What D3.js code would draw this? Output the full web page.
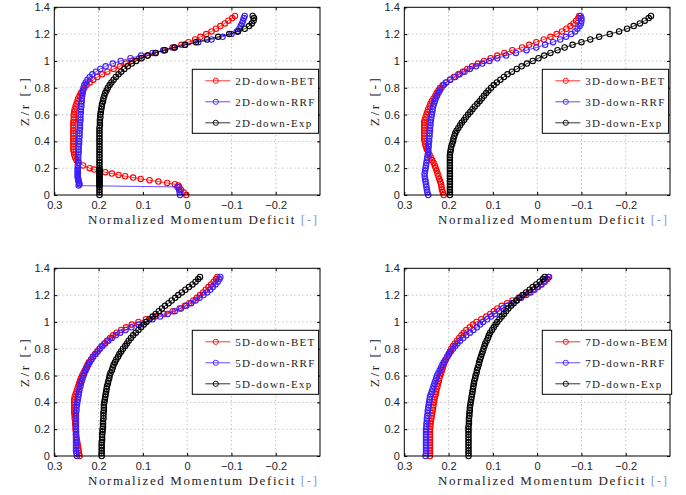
<!DOCTYPE html>
<html>
<head>
<meta charset="utf-8">
<script src="https://cdn.jsdelivr.net/npm/d3@7"></script>
<style>
  body { margin: 0; background: #fff; }
  svg { display: block; }
  .tick text { font-family: "Liberation Sans", Arial, sans-serif; font-size: 11px; fill: #222; }
  .serif { font-family: "Liberation Serif", "Times New Roman", serif; fill: #222; }
</style>
</head>
<body>
<svg id="chart" width="686" height="495"></svg>
<script>

// heights Z/r where the profiles were sampled (2D panel has extra samples near the ground)
const zNear = [
  0, 0.02, 0.04, 0.06, 0.07, 0.08, 0.09, 0.10, 0.11, 0.12,
  0.13, 0.14, 0.15, 0.16, 0.17, 0.18, 0.19, 0.20, 0.22, 0.24,
  0.26, 0.28, 0.30, 0.32, 0.34, 0.36, 0.38, 0.40, 0.42, 0.44,
  0.46, 0.48, 0.50, 0.52, 0.54, 0.56, 0.58, 0.60, 0.62, 0.64,
  0.66, 0.68, 0.70, 0.72, 0.74, 0.76, 0.78, 0.80, 0.82, 0.84,
  0.86, 0.88, 0.90, 0.92, 0.94, 0.96, 0.98, 1.00, 1.02, 1.04,
  1.06, 1.08, 1.10, 1.12, 1.14, 1.16, 1.18, 1.20, 1.22, 1.24,
  1.26, 1.28, 1.30, 1.32, 1.335
];
const zGrid = [
  0, 0.02, 0.04, 0.06, 0.08, 0.10, 0.12, 0.14, 0.16, 0.18,
  0.20, 0.22, 0.24, 0.26, 0.28, 0.30, 0.32, 0.34, 0.36, 0.38,
  0.40, 0.42, 0.44, 0.46, 0.48, 0.50, 0.52, 0.54, 0.56, 0.58,
  0.60, 0.62, 0.64, 0.66, 0.68, 0.70, 0.72, 0.74, 0.76, 0.78,
  0.80, 0.82, 0.84, 0.86, 0.88, 0.90, 0.92, 0.94, 0.96, 0.98,
  1.00, 1.02, 1.04, 1.06, 1.08, 1.10, 1.12, 1.14, 1.16, 1.18,
  1.20, 1.22, 1.24, 1.26, 1.28, 1.30, 1.32, 1.335
];

// 2D downstream (on zNear)
const bet2D = [
  0.002, 0.008, 0.014, 0.018, 0.020, 0.028, 0.045, 0.065, 0.085, 0.105,
  0.122, 0.140, 0.155, 0.170, 0.185, 0.198, 0.210, 0.220, 0.235, 0.245,
  0.250, 0.253, 0.255, 0.256, 0.257, 0.257, 0.257, 0.257, 0.257, 0.257,
  0.257, 0.257, 0.257, 0.257, 0.257, 0.256, 0.256, 0.256, 0.255, 0.254,
  0.252, 0.250, 0.248, 0.246, 0.243, 0.240, 0.236, 0.232, 0.227, 0.220,
  0.212, 0.203, 0.192, 0.180, 0.166, 0.152, 0.138, 0.124, 0.108, 0.090,
  0.072, 0.053, 0.033, 0.013, -0.003, -0.018, -0.030, -0.043, -0.055, -0.065,
  -0.075, -0.085, -0.093, -0.102, -0.108
];
const rrf2D = [
  0.016, 0.017, 0.018, 0.022, 0.245, 0.243, 0.244, 0.245, 0.246, 0.246,
  0.247, 0.247, 0.247, 0.247, 0.247, 0.247, 0.247, 0.247, 0.247, 0.246,
  0.246, 0.246, 0.246, 0.245, 0.245, 0.245, 0.244, 0.244, 0.244, 0.243,
  0.243, 0.243, 0.242, 0.242, 0.242, 0.241, 0.241, 0.241, 0.240, 0.240,
  0.239, 0.239, 0.238, 0.238, 0.237, 0.236, 0.235, 0.234, 0.232, 0.229,
  0.225, 0.220, 0.214, 0.206, 0.196, 0.184, 0.168, 0.150, 0.128, 0.104,
  0.078, 0.054, 0.030, 0.005, -0.025, -0.055, -0.080, -0.100, -0.112, -0.118,
  -0.121, -0.124, -0.126, -0.128, -0.130
];
const exp2D = [
  0.198, 0.198, 0.198, 0.198, 0.198, 0.198, 0.198, 0.198, 0.198, 0.198,
  0.198, 0.198, 0.198, 0.198, 0.198, 0.198, 0.198, 0.198, 0.198, 0.198,
  0.198, 0.198, 0.198, 0.198, 0.198, 0.198, 0.198, 0.198, 0.198, 0.198,
  0.198, 0.198, 0.198, 0.197, 0.197, 0.197, 0.196, 0.196, 0.195, 0.194,
  0.193, 0.192, 0.190, 0.189, 0.187, 0.185, 0.182, 0.179, 0.175, 0.171,
  0.166, 0.161, 0.155, 0.149, 0.142, 0.134, 0.125, 0.115, 0.103, 0.089,
  0.071, 0.050, 0.028, 0.005, -0.020, -0.045, -0.070, -0.095, -0.115, -0.130,
  -0.140, -0.146, -0.150, -0.151, -0.148
];

// 3D downstream (on zGrid)
const bet3D = [
  0.211, 0.213, 0.215, 0.216, 0.217, 0.219, 0.221, 0.223, 0.225, 0.227,
  0.229, 0.231, 0.234, 0.237, 0.240, 0.243, 0.246, 0.249, 0.251, 0.253,
  0.254, 0.255, 0.255, 0.255, 0.255, 0.255, 0.255, 0.255, 0.254, 0.252,
  0.250, 0.248, 0.246, 0.243, 0.241, 0.238, 0.234, 0.230, 0.227, 0.223,
  0.219, 0.213, 0.206, 0.197, 0.188, 0.178, 0.168, 0.158, 0.147, 0.134,
  0.120, 0.105, 0.090, 0.074, 0.056, 0.034, 0.018, 0.002, -0.015, -0.030,
  -0.044, -0.056, -0.066, -0.075, -0.082, -0.088, -0.093, -0.095
];
const rrf3D = [
  0.246, 0.248, 0.249, 0.250, 0.251, 0.252, 0.253, 0.254, 0.254, 0.253,
  0.252, 0.251, 0.250, 0.249, 0.248, 0.247, 0.246, 0.246, 0.245, 0.245,
  0.244, 0.244, 0.243, 0.243, 0.242, 0.242, 0.241, 0.241, 0.240, 0.239,
  0.238, 0.237, 0.236, 0.235, 0.233, 0.231, 0.229, 0.226, 0.223, 0.220,
  0.216, 0.211, 0.205, 0.196, 0.185, 0.175, 0.164, 0.152, 0.138, 0.124,
  0.108, 0.090, 0.070, 0.048, 0.024, 0.002, -0.018, -0.036, -0.052, -0.065,
  -0.077, -0.086, -0.091, -0.096, -0.099, -0.100, -0.100, -0.098
];
const exp3D = [
  0.197, 0.197, 0.197, 0.197, 0.197, 0.197, 0.197, 0.197, 0.197, 0.197,
  0.197, 0.197, 0.197, 0.197, 0.197, 0.197, 0.196, 0.195, 0.194, 0.192,
  0.190, 0.189, 0.187, 0.185, 0.182, 0.178, 0.174, 0.170, 0.165, 0.161,
  0.156, 0.151, 0.146, 0.141, 0.135, 0.130, 0.125, 0.120, 0.115, 0.110,
  0.104, 0.098, 0.091, 0.083, 0.075, 0.067, 0.057, 0.046, 0.035, 0.023,
  0.010, -0.003, -0.016, -0.030, -0.046, -0.062, -0.080, -0.100, -0.120, -0.140,
  -0.164, -0.185, -0.203, -0.218, -0.232, -0.243, -0.252, -0.257
];

// 5D downstream
const bet5D = [
  0.243, 0.244, 0.245, 0.246, 0.247, 0.248, 0.249, 0.250, 0.251, 0.251,
  0.252, 0.252, 0.253, 0.253, 0.254, 0.254, 0.255, 0.255, 0.255, 0.255,
  0.255, 0.255, 0.254, 0.252, 0.250, 0.248, 0.246, 0.244, 0.242, 0.240,
  0.237, 0.234, 0.231, 0.228, 0.225, 0.222, 0.217, 0.213, 0.208, 0.203,
  0.198, 0.193, 0.187, 0.181, 0.174, 0.167, 0.159, 0.149, 0.138, 0.125,
  0.110, 0.093, 0.072, 0.052, 0.033, 0.017, 0.005, -0.005, -0.014, -0.022,
  -0.029, -0.036, -0.042, -0.048, -0.054, -0.060, -0.065, -0.068
];
const rrf5D = [
  0.249, 0.250, 0.251, 0.251, 0.251, 0.251, 0.251, 0.251, 0.251, 0.251,
  0.251, 0.251, 0.251, 0.251, 0.251, 0.251, 0.251, 0.250, 0.250, 0.249,
  0.248, 0.247, 0.246, 0.245, 0.244, 0.243, 0.241, 0.240, 0.238, 0.236,
  0.234, 0.232, 0.229, 0.226, 0.223, 0.220, 0.216, 0.212, 0.207, 0.202,
  0.197, 0.191, 0.185, 0.178, 0.170, 0.161, 0.151, 0.139, 0.126, 0.110,
  0.094, 0.078, 0.061, 0.044, 0.028, 0.014, 0.002, -0.009, -0.019, -0.028,
  -0.037, -0.045, -0.052, -0.058, -0.064, -0.069, -0.073, -0.075
];
const exp5D = [
  0.193, 0.193, 0.193, 0.193, 0.193, 0.193, 0.192, 0.192, 0.192, 0.191,
  0.191, 0.190, 0.190, 0.190, 0.189, 0.189, 0.189, 0.188, 0.188, 0.188,
  0.187, 0.186, 0.185, 0.184, 0.183, 0.182, 0.181, 0.179, 0.178, 0.176,
  0.175, 0.173, 0.170, 0.168, 0.166, 0.163, 0.160, 0.156, 0.153, 0.149,
  0.145, 0.140, 0.136, 0.132, 0.127, 0.122, 0.116, 0.110, 0.104, 0.098,
  0.092, 0.085, 0.078, 0.071, 0.064, 0.057, 0.050, 0.042, 0.035, 0.027,
  0.020, 0.012, 0.004, -0.004, -0.012, -0.019, -0.025, -0.029
];

// 7D downstream
const bem7D = [
  0.242, 0.242, 0.242, 0.242, 0.242, 0.242, 0.242, 0.242, 0.242, 0.242,
  0.242, 0.241, 0.241, 0.240, 0.239, 0.238, 0.237, 0.236, 0.235, 0.234,
  0.233, 0.232, 0.231, 0.229, 0.228, 0.227, 0.225, 0.224, 0.222, 0.221,
  0.219, 0.217, 0.215, 0.213, 0.211, 0.209, 0.206, 0.203, 0.200, 0.197,
  0.194, 0.190, 0.186, 0.181, 0.176, 0.171, 0.166, 0.160, 0.152, 0.145,
  0.137, 0.126, 0.115, 0.106, 0.098, 0.090, 0.080, 0.068, 0.056, 0.042,
  0.030, 0.019, 0.009, 0.000, -0.008, -0.015, -0.021, -0.025
];
const rrf7D = [
  0.252, 0.251, 0.251, 0.251, 0.251, 0.251, 0.251, 0.251, 0.251, 0.251,
  0.251, 0.250, 0.250, 0.249, 0.249, 0.248, 0.247, 0.247, 0.246, 0.245,
  0.244, 0.243, 0.242, 0.240, 0.238, 0.236, 0.234, 0.232, 0.230, 0.228,
  0.226, 0.223, 0.220, 0.217, 0.214, 0.211, 0.207, 0.203, 0.199, 0.195,
  0.190, 0.185, 0.180, 0.174, 0.167, 0.160, 0.152, 0.144, 0.136, 0.129,
  0.122, 0.113, 0.104, 0.095, 0.086, 0.077, 0.068, 0.058, 0.047, 0.036,
  0.025, 0.015, 0.006, -0.002, -0.010, -0.017, -0.023, -0.027
];
const exp7D = [
  0.155, 0.155, 0.155, 0.155, 0.155, 0.155, 0.155, 0.155, 0.155, 0.155,
  0.155, 0.155, 0.154, 0.154, 0.154, 0.153, 0.153, 0.152, 0.152, 0.151,
  0.150, 0.149, 0.148, 0.147, 0.146, 0.145, 0.144, 0.143, 0.142, 0.140,
  0.139, 0.137, 0.136, 0.134, 0.132, 0.131, 0.129, 0.127, 0.125, 0.123,
  0.121, 0.119, 0.117, 0.114, 0.111, 0.109, 0.106, 0.102, 0.098, 0.094,
  0.090, 0.085, 0.080, 0.075, 0.070, 0.065, 0.059, 0.053, 0.046, 0.040,
  0.033, 0.025, 0.017, 0.010, 0.002, -0.006, -0.013, -0.017
];

const legend2D = ["2D-down-BET", "2D-down-RRF", "2D-down-Exp"];
const legend3D = ["3D-down-BET", "3D-down-RRF", "3D-down-Exp"];
const legend5D = ["5D-down-BET", "5D-down-RRF", "5D-down-Exp"];
const legend7D = ["7D-down-BEM", "7D-down-RRF", "7D-down-Exp"];

const xTicks = [0.3, 0.2, 0.1, 0, -0.1, -0.2];
const yTicks = [0, 0.2, 0.4, 0.6, 0.8, 1, 1.2, 1.4];
const xLabel = "Normalized Momentum Deficit ";
const yLabel = "Z/r [-]";
const unitLabel = "[-]";

const colors = ["#ff0000", "#3c1eff", "#000000"];

const panels = [
    { z: zNear, series: [bet2D, rrf2D, exp2D], names: legend2D, left: 54.3, top: 7.3 },
    { z: zGrid, series: [bet3D, rrf3D, exp3D], names: legend3D, left: 404.3, top: 7.3 },
    { z: zGrid, series: [bet5D, rrf5D, exp5D], names: legend5D, left: 54.3, top: 268.3 },
    { z: zGrid, series: [bem7D, rrf7D, exp7D], names: legend7D, left: 404.3, top: 268.3 }
];

const pw = 265.7;
const ph = 187.7;
const svg = d3.select("#chart");

const fmtX = d => d === 0 ? "0" : d3.format("")(d);
const fmtY = d => d3.format("")(d);

panels.forEach(p => {

    const g = svg.append("g").attr("transform", `translate(${p.left},${p.top})`);

    const x = d3.scaleLinear().domain([0.3, -0.3]).range([0, pw]);
    const y = d3.scaleLinear().domain([0, 1.4]).range([ph, 0]);

    // dotted grid
    g.append("g").selectAll("line").data(xTicks.slice(1)).join("line")
        .attr("x1", d => x(d)).attr("x2", d => x(d))
        .attr("y1", 0).attr("y2", ph)
        .attr("stroke", "#a8a8a8").attr("stroke-dasharray", "1,3");
    g.append("g").selectAll("line").data(yTicks.slice(1, -1)).join("line")
        .attr("x1", 0).attr("x2", pw)
        .attr("y1", d => y(d)).attr("y2", d => y(d))
        .attr("stroke", "#a8a8a8").attr("stroke-dasharray", "1,3");

    // profiles: thin line + open circle at each sample
    p.series.forEach((xs, i) => {
        const pts = xs.map((v, j) => [v, p.z[j]]);
        const line = d3.line().x(d => x(d[0])).y(d => y(d[1]));
        g.append("path").datum(pts)
            .attr("d", line)
            .attr("fill", "none")
            .attr("stroke", colors[i])
            .attr("stroke-width", 0.8);
        g.append("g").selectAll("circle").data(pts).join("circle")
            .attr("cx", d => x(d[0]))
            .attr("cy", d => y(d[1]))
            .attr("r", 2.7)
            .attr("fill", "none")
            .attr("stroke", colors[i])
            .attr("stroke-width", 1.1);
    });

    // axes, MATLAB style: inward ticks on all four sides
    g.append("g").attr("transform", `translate(0,${ph})`)
        .call(d3.axisBottom(x).tickValues(xTicks).tickSize(-3).tickPadding(6).tickFormat(fmtX))
        .call(a => a.select(".domain").remove());
    g.append("g")
        .call(d3.axisLeft(y).tickValues(yTicks).tickSize(-3).tickPadding(4.5).tickFormat(fmtY))
        .call(a => a.select(".domain").remove());
    g.append("g")
        .call(d3.axisTop(x).tickValues(xTicks).tickSize(-3).tickFormat(""))
        .call(a => a.select(".domain").remove());
    g.append("g").attr("transform", `translate(${pw},0)`)
        .call(d3.axisRight(y).tickValues(yTicks).tickSize(-3).tickFormat(""))
        .call(a => a.select(".domain").remove());
    g.selectAll(".tick line").attr("stroke", "#000");

    g.append("rect")
        .attr("width", pw).attr("height", ph)
        .attr("fill", "none").attr("stroke", "#000").attr("stroke-width", 1);

    // axis labels
    const xl = g.append("text").attr("class", "serif")
        .attr("x", 148.2).attr("y", ph + 29.5)
        .attr("text-anchor", "middle")
        .attr("font-size", 13)
        .attr("textLength", 229).attr("lengthAdjust", "spacing");
    xl.append("tspan").text(xLabel);
    xl.append("tspan").attr("fill", "#7f9cc6").text(unitLabel);

    g.append("text").attr("class", "serif")
        .attr("transform", `translate(-25.3,${ph / 2 + 1}) rotate(-90)`)
        .attr("text-anchor", "middle")
        .attr("font-size", 13.5)
        .attr("textLength", 48).attr("lengthAdjust", "spacing")
        .text(yLabel);

    // legend
    const lg = g.append("g").attr("transform", "translate(138,62)");
    const box = lg.append("rect")
        .attr("height", 64)
        .attr("fill", "#fff").attr("stroke", "#000").attr("stroke-width", 1);
    let maxLen = 0;
    p.names.forEach((name, i) => {
        const cy = 11.5 + i * 21;
        lg.append("line")
            .attr("x1", 13).attr("x2", 38).attr("y1", cy).attr("y2", cy)
            .attr("stroke", colors[i]).attr("stroke-width", 0.8);
        lg.append("circle")
            .attr("cx", 23.5).attr("cy", cy).attr("r", 2.6)
            .attr("fill", "none").attr("stroke", colors[i]).attr("stroke-width", 0.9);
        const t = lg.append("text").attr("class", "serif")
            .attr("x", 43).attr("y", cy + 4)
            .attr("font-size", 11)
            .attr("letter-spacing", "1.3px")
            .text(name);
        maxLen = Math.max(maxLen, t.node().getComputedTextLength());
    });
    box.attr("width", 43 + maxLen + 3);
});

</script>
</body>
</html>
